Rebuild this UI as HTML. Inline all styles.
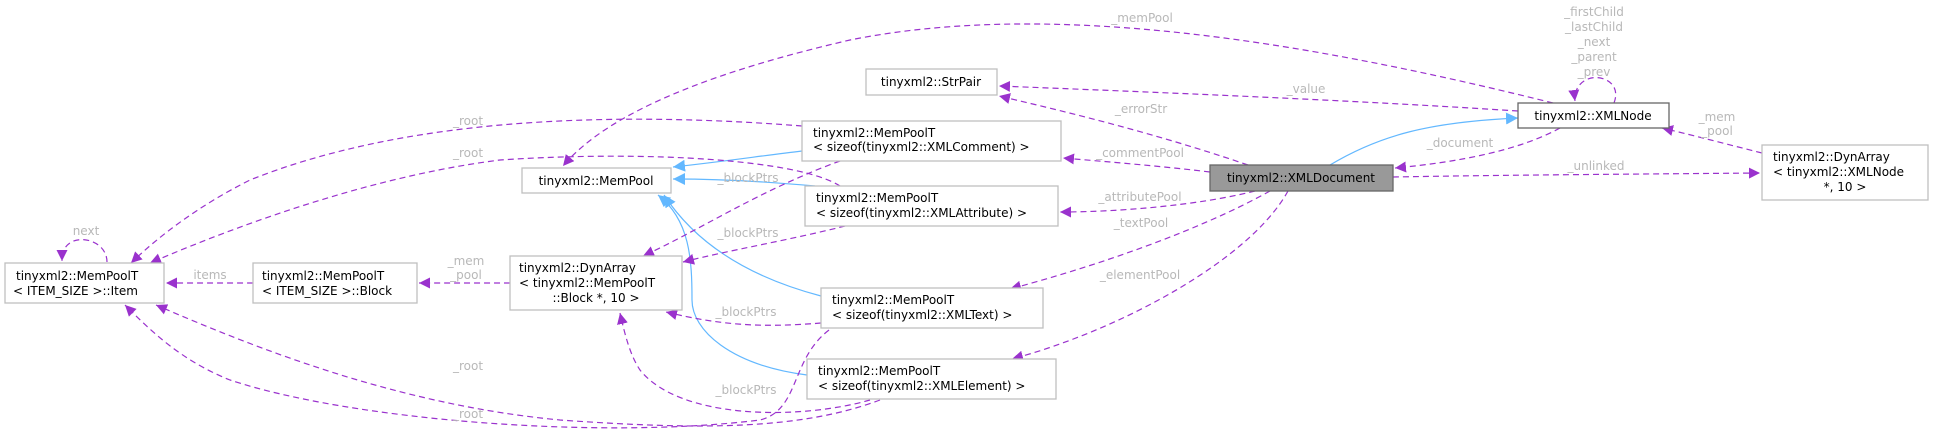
<!DOCTYPE html>
<html><head><meta charset="utf-8"><style>
html,body{margin:0;padding:0;background:#fff;}
svg{display:block;}
text{font-family:"DejaVu Sans","Liberation Sans",sans-serif;font-size:12px;}
.n{fill:#fff;stroke:#bfbfbf;stroke-width:1.3;}
.t{fill:#000;}
.l{fill:#b8b8b8;}
.d{fill:none;stroke:#9a32cd;stroke-width:1.2;stroke-dasharray:6,4;}
.b{fill:none;stroke:#63b8ff;stroke-width:1.2;}
</style></head><body>
<svg width="1933" height="440" viewBox="0 0 1933 440" xmlns="http://www.w3.org/2000/svg">
<defs>
<marker id="p" viewBox="0 0 10 10" refX="10" refY="5" markerWidth="11" markerHeight="11" markerUnits="userSpaceOnUse" orient="auto"><path d="M0,0 L10,5 L0,10 z" fill="#9a32cd"/></marker>
<marker id="q" viewBox="0 0 10 10" refX="10" refY="5" markerWidth="12" markerHeight="12" markerUnits="userSpaceOnUse" orient="auto"><path d="M0,0 L10,5 L0,10 z" fill="#63b8ff"/></marker>
</defs>

<!-- blue inheritance edges -->
<path class="b" d="M1330,165 C1380,135 1430,122 1518,118" marker-end="url(#q)"/>
<path class="b" d="M802,151 C760,156 720,162 673,167" marker-end="url(#q)"/>
<path class="b" d="M815,186 C760,181 720,179 673,179" marker-end="url(#q)"/>
<path class="b" d="M821,296 C760,280 700,250 664,195" marker-end="url(#q)"/>
<path class="b" d="M807,375 C730,365 692,330 692,300 C692,260 690,220 658,195" marker-end="url(#q)"/>

<!-- purple edges -->
<path class="d" d="M1614,103 C1622,82 1600,74 1588,79 C1578,83 1574,92 1575,101" marker-end="url(#p)"/>
<path class="d" d="M1553,103 C1300,40 1050,0 850,40 C720,70 610,110 563,166" marker-end="url(#p)"/>
<path class="d" d="M1518,111 C1350,100 1150,92 999,86" marker-end="url(#p)"/>
<path class="d" d="M1248,165 C1160,135 1080,115 999,96" marker-end="url(#p)"/>
<path class="d" d="M1560,128 C1520,150 1460,162 1395,168" marker-end="url(#p)"/>
<path class="d" d="M1393,177 C1500,175 1650,174 1760,173" marker-end="url(#p)"/>
<path class="d" d="M1762,153 C1730,145 1700,137 1662,128" marker-end="url(#p)"/>
<path class="d" d="M1210,172 C1160,166 1110,162 1063,158" marker-end="url(#p)"/>
<path class="d" d="M1255,191 C1200,205 1120,212 1060,212" marker-end="url(#p)"/>
<path class="d" d="M1270,191 C1200,230 1100,265 1010,289" marker-end="url(#p)"/>
<path class="d" d="M1288,191 C1250,260 1120,330 1012,359" marker-end="url(#p)"/>
<path class="d" d="M840,161 C760,190 700,230 643,256" marker-end="url(#p)"/>
<path class="d" d="M845,226 C790,240 730,250 683,262" marker-end="url(#p)"/>
<path class="d" d="M821,323 C760,328 720,325 666,312" marker-end="url(#p)"/>
<path class="d" d="M870,400 C800,420 680,420 640,370 C630,355 625,335 620,313" marker-end="url(#p)"/>
<path class="d" d="M802,126 C600,110 400,120 250,180 C200,205 160,235 131,263" marker-end="url(#p)"/>
<path class="d" d="M840,186 C800,160 650,150 500,160 C380,175 250,220 150,263" marker-end="url(#p)"/>
<path class="d" d="M829,330 C790,360 800,410 760,420 C600,440 350,420 230,380 C180,360 150,330 125,305" marker-end="url(#p)"/>
<path class="d" d="M880,400 C800,430 700,430 560,420 C400,405 260,350 156,305" marker-end="url(#p)"/>
<path class="d" d="M253,283 C230,283 200,283 166,283" marker-end="url(#p)"/>
<path class="d" d="M510,283 C480,283 450,283 419,283" marker-end="url(#p)"/>
<path class="d" d="M107,262 C107,240 75,232 65,248 C62,252 62,257 62,261" marker-end="url(#p)"/>

<!-- edge labels -->
<g class="l" text-anchor="middle">
<text x="1594" y="16">_firstChild</text>
<text x="1594" y="31">_lastChild</text>
<text x="1594" y="46">_next</text>
<text x="1594" y="61">_parent</text>
<text x="1594" y="76">_prev</text>
<text x="1142" y="22">_memPool</text>
<text x="1306" y="93">_value</text>
<text x="1141" y="113">_errorStr</text>
<text x="1140" y="157">_commentPool</text>
<text x="1140" y="201">_attributePool</text>
<text x="1141" y="227">_textPool</text>
<text x="1140" y="279">_elementPool</text>
<text x="1460" y="147">_document</text>
<text x="1596" y="170">_unlinked</text>
<text x="1717" y="121">_mem</text>
<text x="1717" y="135">_pool</text>
<text x="748" y="182">_blockPtrs</text>
<text x="748" y="237">_blockPtrs</text>
<text x="746" y="316">_blockPtrs</text>
<text x="746" y="394">_blockPtrs</text>
<text x="468" y="125">_root</text>
<text x="468" y="157">_root</text>
<text x="468" y="370">_root</text>
<text x="468" y="418">_root</text>
<text x="86" y="235">next</text>
<text x="210" y="279">items</text>
<text x="466" y="265">_mem</text>
<text x="466" y="279">_pool</text>
</g>

<!-- nodes -->
<rect class="n" x="5" y="263" width="159" height="40"/>
<text class="t" x="16" y="280">tinyxml2::MemPoolT</text>
<text class="t" x="13" y="295">&lt; ITEM_SIZE &gt;::Item</text>

<rect class="n" x="253" y="263" width="164" height="40"/>
<text class="t" x="262" y="280">tinyxml2::MemPoolT</text>
<text class="t" x="262" y="295">&lt; ITEM_SIZE &gt;::Block</text>

<rect class="n" x="510" y="256" width="172" height="54"/>
<text class="t" x="519" y="272">tinyxml2::DynArray</text>
<text class="t" x="519" y="287">&lt; tinyxml2::MemPoolT</text>
<text class="t" x="596" y="302" text-anchor="middle">::Block *, 10 &gt;</text>

<rect class="n" x="522" y="168" width="149" height="25"/>
<text class="t" x="596" y="185" text-anchor="middle">tinyxml2::MemPool</text>

<rect class="n" x="866" y="69" width="131" height="26"/>
<text class="t" x="931" y="86" text-anchor="middle">tinyxml2::StrPair</text>

<rect class="n" x="802" y="121" width="259" height="40"/>
<text class="t" x="813" y="137">tinyxml2::MemPoolT</text>
<text class="t" x="813" y="151">&lt; sizeof(tinyxml2::XMLComment) &gt;</text>

<rect class="n" x="805" y="186" width="253" height="40"/>
<text class="t" x="816" y="202">tinyxml2::MemPoolT</text>
<text class="t" x="816" y="217">&lt; sizeof(tinyxml2::XMLAttribute) &gt;</text>

<rect class="n" x="821" y="288" width="222" height="40"/>
<text class="t" x="832" y="304">tinyxml2::MemPoolT</text>
<text class="t" x="832" y="319">&lt; sizeof(tinyxml2::XMLText) &gt;</text>

<rect class="n" x="807" y="359" width="249" height="40"/>
<text class="t" x="818" y="375">tinyxml2::MemPoolT</text>
<text class="t" x="818" y="390">&lt; sizeof(tinyxml2::XMLElement) &gt;</text>

<rect x="1210" y="165" width="183" height="26" fill="#999999" stroke="#666666" stroke-width="1.3"/>
<text class="t" x="1301" y="182" text-anchor="middle">tinyxml2::XMLDocument</text>

<rect x="1518" y="103" width="151" height="25" fill="#fff" stroke="#666666" stroke-width="1.3"/>
<text class="t" x="1593" y="120" text-anchor="middle">tinyxml2::XMLNode</text>

<rect class="n" x="1762" y="145" width="166" height="55"/>
<text class="t" x="1773" y="161">tinyxml2::DynArray</text>
<text class="t" x="1773" y="176">&lt; tinyxml2::XMLNode</text>
<text class="t" x="1845" y="191" text-anchor="middle">*, 10 &gt;</text>
</svg>
</body></html>
